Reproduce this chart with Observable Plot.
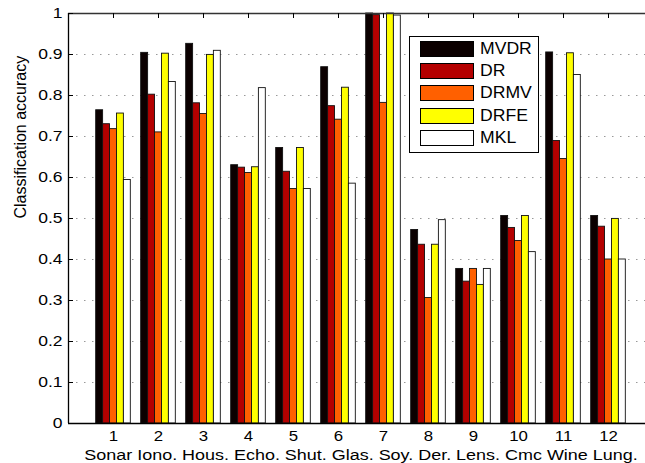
<!DOCTYPE html>
<html>
<head>
<meta charset="utf-8">
<script src="https://cdn.jsdelivr.net/npm/d3@7"></script>
<script src="https://cdn.jsdelivr.net/npm/@observablehq/plot@0.6"></script>
<style>
  html, body { margin: 0; padding: 0; background: #fff; }
  #wrap { position: relative; width: 645px; height: 463px; overflow: hidden; font-family: "Liberation Sans", Arial, sans-serif; }
  #legend { position: absolute; left: 409px; top: 36px; width: 128px; height: 115px; border: 1px solid #000; background: #fff; }
  .row { position: absolute; left: 10px; height: 16px; display: flex; align-items: center; }
  .sw { width: 52px; height: 14px; border: 1px solid #000; }
  .lab { margin-left: 6px; font-size: 16px; color: #000; line-height: 16px; display: inline-block; transform: scaleX(1.1); transform-origin: left center; }
</style>
</head>
<body>
<div id="wrap"></div>
<script>
// ---- data ----
const groups = [1,2,3,4,5,6,7,8,9,10,11,12];
const series = ["MVDR", "DR", "DRMV", "DRFE", "MKL"];
const colors = ["#0b0000", "#b40000", "#ff6000", "#ffff00", "#ffffff"];
const MVDR = [0.764, 0.904, 0.926, 0.630, 0.672, 0.869, 1.000, 0.472, 0.377, 0.506, 0.905, 0.506];
const DR   = [0.730, 0.802, 0.781, 0.624, 0.614, 0.774, 0.996, 0.436, 0.346, 0.477, 0.689, 0.480];
const DRMV = [0.718, 0.710, 0.755, 0.611, 0.572, 0.741, 0.782, 0.306, 0.377, 0.445, 0.645, 0.400];
const DRFE = [0.756, 0.902, 0.899, 0.625, 0.672, 0.819, 1.000, 0.436, 0.338, 0.506, 0.903, 0.499];
const MKL  = [0.594, 0.833, 0.909, 0.818, 0.572, 0.585, 0.995, 0.496, 0.377, 0.418, 0.850, 0.400];
const yTicks = [0, 0.1, 0.2, 0.3, 0.4, 0.5, 0.6, 0.7, 0.8, 0.9, 1];
const yTickLabels = ["0", "0.1", "0.2", "0.3", "0.4", "0.5", "0.6", "0.7", "0.8", "0.9", "1"];
const xTickLabels = ["1","2","3","4","5","6","7","8","9","10","11","12"];
const xLabel = "Sonar Iono. Hous. Echo. Shut. Glas. Soy. Der. Lens. Cmc Wine Lung.";
const yLabel = "Classification accuracy";

// ---- table ----
const values = [MVDR, DR, DRMV, DRFE, MKL];
const nS = series.length;
const groupWidth = nS / (nS + 1.5);
const barWidth = groupWidth / nS;
const rows = [];
groups.forEach((g, i) => {
  series.forEach((s, j) => {
    const x1 = g - groupWidth / 2 + j * barWidth;
    rows.push({group: g, series: s, value: values[j][i], x1, x2: x1 + barWidth});
  });
});

const chart = Plot.plot({
  width: 645,
  height: 463,
  marginLeft: 68,
  marginRight: -8,
  marginTop: 13,
  marginBottom: 40,
  style: {fontFamily: "Liberation Sans, Arial, sans-serif", fontSize: "14px", color: "#000", background: "#fff"},
  x: {domain: [0, 13]},
  y: {domain: [0, 1]},
  color: {domain: series, range: colors},
  marks: [
    Plot.gridY(yTicks.slice(1, -1), {stroke: "#999", strokeOpacity: 1, strokeDasharray: "1.5,6.5"}),
    Plot.rectY(rows, {x1: "x1", x2: "x2", y1: 0, y2: "value", fill: "series", stroke: "#111", strokeWidth: 0.9}),
    Plot.ruleY([0], {x1: 0, x2: 13, stroke: "#000", strokeWidth: 1.3}),
    Plot.ruleY([1], {x1: 0, x2: 13, stroke: "#333", strokeWidth: 1.3}),
    Plot.ruleX([0], {y1: 0, y2: 1, stroke: "#000", strokeWidth: 1.3}),
    Plot.tickX(groups, {x: d => d, insetBottom: 405, stroke: "#000"}),
    Plot.tickY(yTicks, {y: d => d, insetRight: 580, stroke: "#000"}),
    Plot.axisY(yTicks, {tickSize: 0, tickPadding: 6, tickFormat: (d, i) => yTickLabels[i], fontSize: 14, label: null}),
    Plot.axisX(groups, {tickSize: 0, tickPadding: 8, tickFormat: (d, i) => xTickLabels[i], fontSize: 14, label: null}),
    Plot.text([xLabel], {text: d => d, frameAnchor: "bottom", dy: 36.5, lineAnchor: "bottom", fontSize: 15.5, className: "xlab"}),
    Plot.text([yLabel], {text: d => d, frameAnchor: "left", dx: -48, rotate: -90, lineAnchor: "middle", fontSize: 16, className: "ylab"})
  ]
});

const wrap = document.getElementById("wrap");
wrap.appendChild(chart);

// horizontal stretch of text, as in the reference rendering
function stretch(sel, k) {
  chart.querySelectorAll(sel).forEach(t => {
    const L = t.getComputedTextLength();
    t.setAttribute("textLength", (L * k).toFixed(2));
    t.setAttribute("lengthAdjust", "spacingAndGlyphs");
  });
}
stretch('g[aria-label="y-axis tick label"] text', 1.25);
stretch('g[aria-label="x-axis tick label"] text', 1.2);
stretch('g.xlab text', 557 / 481);

// legend
const legend = document.createElement("div");
legend.id = "legend";
series.forEach((s, j) => {
  const row = document.createElement("div");
  row.className = "row";
  row.style.top = (4 + j * 22.2) + "px";
  const sw = document.createElement("div");
  sw.className = "sw";
  sw.style.background = colors[j];
  const lab = document.createElement("span");
  lab.className = "lab";
  lab.textContent = s;
  row.appendChild(sw);
  row.appendChild(lab);
  legend.appendChild(row);
});
wrap.appendChild(legend);
</script>
</body>
</html>
